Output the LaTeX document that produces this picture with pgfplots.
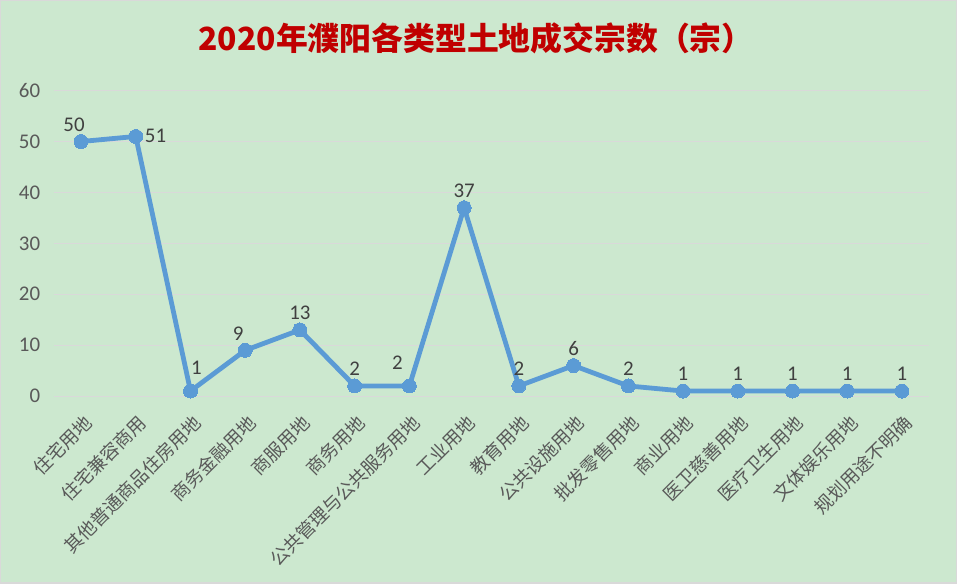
\documentclass[border=0pt]{standalone}
\usepackage{fontspec}
\setmainfont{Noto Sans CJK SC}
\newfontfamily\numfont{Carlito}
\usepackage{pgfplots}
\pgfplotsset{compat=1.18}

\definecolor{bggreen}{HTML}{CCE8CF}
\definecolor{lineblue}{HTML}{5B9BD5}
\definecolor{titlered}{HTML}{C00000}
\definecolor{ticktxt}{HTML}{595959}
\definecolor{lbltxt}{HTML}{404040}
\definecolor{gridc}{HTML}{D9D9D9}

\pgfplotsset{
  vlabel/.style={draw=none, mark=none, nodes near coords,
    nodes near coords style={text=lbltxt, font=\numfont\fontsize{21}{21}\selectfont,
      anchor=south, inner sep=1bp, #1}},
}

\begin{document}
\begin{tikzpicture}
% chart area background and border
\fill[bggreen, draw=gridc, line width=1.5bp] (-53bp,-187bp) rectangle (904bp,396bp);
\node[font=\bfseries\fontsize{32}{32}\selectfont, text=titlered] at (423bp,358bp)
  {2020年濮阳各类型土地成交宗数（宗）};
\begin{axis}[
  at={(0,0)}, anchor=south west,
  scale only axis, width=877bp, height=306bp,
  xmin=-0.5, xmax=15.5,
  ymin=0, ymax=60, ytick={0,10,...,60},
  xtick={0,...,15},
  xticklabels={住宅用地, 住宅兼容商用, 其他普通商品住房用地, 商务金融用地, 商服用地, 商务用地,
    公共管理与公共服务用地, 工业用地, 教育用地, 公共设施用地, 批发零售用地, 商业用地,
    医卫慈善用地, 医疗卫生用地, 文体娱乐用地, 规划用途不明确},
  axis line style={draw=none},
  major tick length=0pt,
  ymajorgrids, grid style={gridc, line width=1.2bp},
  x tick label style={xshift=1bp, yshift=-16bp, rotate=45, anchor=north east, text=ticktxt,
    font=\fontsize{18.5}{18.5}\selectfont, inner sep=1bp},
  y tick label style={text=ticktxt, font=\numfont\fontsize{21}{21}\selectfont, xshift=-10bp},
  /pgf/number format/assume math mode=true,
  clip=false,
]
\addplot[lineblue, line width=4.8bp, mark=*, mark size=7bp,
  mark options={fill=lineblue, draw=lineblue, line width=0pt}] coordinates {
  (0,50) (1,51) (2,1) (3,9) (4,13) (5,2) (6,2) (7,37)
  (8,2) (9,6) (10,2) (11,1) (12,1) (13,1) (14,1) (15,1)
};
% data labels
\addplot[vlabel={yshift=9bp}] coordinates {
  (4,13) (5,2) (7,37) (8,2) (9,6) (10,2) (11,1) (12,1) (13,1) (14,1) (15,1)
};
\addplot[vlabel={xshift=-7bp, yshift=9bp}] coordinates {(0,50) (3,9)};
\addplot[vlabel={anchor=west, xshift=8bp, yshift=1bp}] coordinates {(1,51)};
\addplot[vlabel={xshift=6bp, yshift=15bp}] coordinates {(2,1)};
\addplot[vlabel={xshift=-12bp, yshift=15bp}] coordinates {(6,2)};
\end{axis}
\end{tikzpicture}
\end{document}
